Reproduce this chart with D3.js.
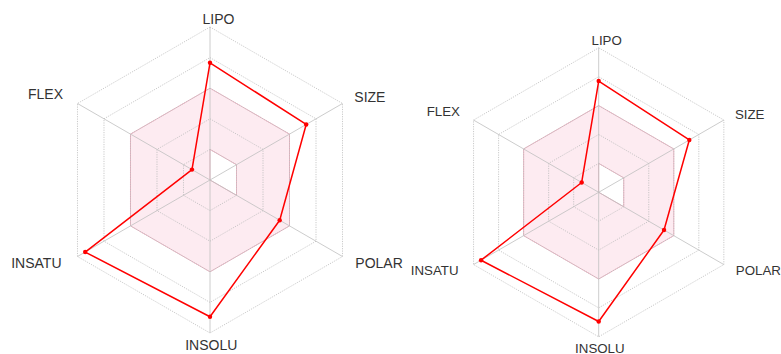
<!DOCTYPE html>
<html>
<head>
<meta charset="utf-8">
<script src="https://cdn.jsdelivr.net/npm/d3@7"></script>
<style>
  html, body { margin: 0; padding: 0; background: #fff; }
  svg { display: block; }
  text { font-family: "Liberation Sans", Arial, sans-serif; fill: #333; }
</style>
</head>
<body>
<svg id="chart" width="781" height="354"></svg>
<script>
// Bioavailability radar axes (clockwise from top)
const axes = ["LIPO", "SIZE", "POLAR", "INSOLU", "INSATU", "FLEX"];
// Grid levels (scale 0..5)
const levels = [1, 2, 3, 4, 5];
// Optimal physicochemical range (pink band): inner and outer bounds per axis
const rangeInner = [1, 1, 1, 0, 0, 0];
const rangeOuter = [3, 3, 3, 3, 3, 3];
// Molecule property values per axis, one array per radar
const valuesA = [3.83, 3.63, 2.63, 4.47, 4.71, 0.68];
const valuesB = [3.85, 3.62, 2.61, 4.47, 4.70, 0.68];

// Label placement relative to the radius (x, y in units of R)
const labelOffsets = [
  [0.055, -1.055], [1.045, -0.54], [1.105, 0.54],
  [0.008, 1.08], [-1.135, 0.54], [-1.075, -0.56]
];

const svg = d3.select("#chart");

function drawRadar(cx, cy, R, fontSize, values) {
  const g = svg.append("g").attr("transform", `translate(${cx},${cy})`);
  const r = d3.scaleLinear().domain([0, 5]).range([0, R]);
  const angle = i => (-90 + i * 60) * Math.PI / 180;
  const pt = (v, i) => [r(v) * Math.cos(angle(i)), r(v) * Math.sin(angle(i))];
  const ring = vals => "M" + vals.map((v, i) => pt(v, i).join(",")).join("L") + "Z";

  // optimal range band (outer hexagon minus inner polygon)
  g.append("path")
    .attr("d", ring(rangeOuter) + ring(rangeInner))
    .attr("fill-rule", "evenodd")
    .attr("fill", "#fdebf1")
    .attr("stroke", "#eab3c2")
    .attr("stroke-width", 1);

  // dotted grid rings
  g.selectAll(".level").data(levels).enter().append("path")
    .attr("d", l => ring(axes.map(() => l)))
    .attr("fill", "none")
    .attr("stroke", "#bdbdbd")
    .attr("stroke-width", 0.8)
    .attr("stroke-dasharray", "1.2,1.2");

  // axis spokes
  g.selectAll(".spoke").data(axes).enter().append("line")
    .attr("x1", 0).attr("y1", 0)
    .attr("x2", (d, i) => pt(5, i)[0])
    .attr("y2", (d, i) => pt(5, i)[1])
    .attr("stroke", "#bfbfbf")
    .attr("stroke-width", 0.8);

  // molecule polygon
  g.append("path")
    .attr("d", ring(values))
    .attr("fill", "none")
    .attr("stroke", "#ff0000")
    .attr("stroke-width", 1.5)
    .attr("stroke-linejoin", "round");

  g.selectAll(".dot").data(values).enter().append("circle")
    .attr("cx", (v, i) => pt(v, i)[0])
    .attr("cy", (v, i) => pt(v, i)[1])
    .attr("r", 2.2)
    .attr("fill", "#ff0000");

  // axis labels
  g.selectAll(".label").data(axes).enter().append("text")
    .attr("x", (d, i) => labelOffsets[i][0] * R)
    .attr("y", (d, i) => labelOffsets[i][1] * R)
    .attr("dy", "0.36em")
    .attr("text-anchor", "middle")
    .attr("font-size", fontSize)
    .text(d => d);
}

drawRadar(210, 180, 153, 14, valuesA);
drawRadar(598.7, 192.3, 144.5, 13.3, valuesB);
</script>
</body>
</html>
